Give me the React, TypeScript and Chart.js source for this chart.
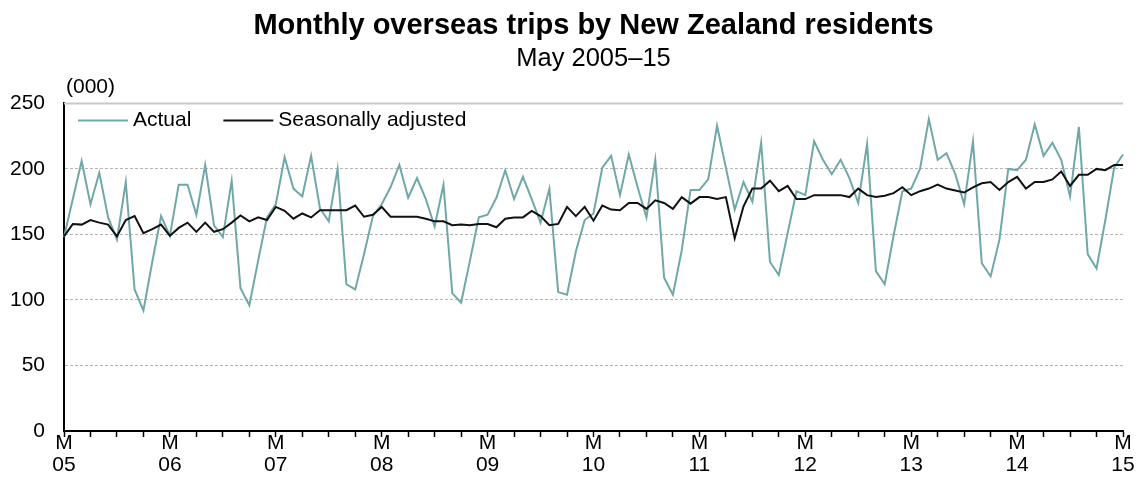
import React, { useEffect, useRef } from "react";
import { Chart, registerables } from "chart.js";

Chart.register(...registerables);

const TITLE = "Monthly overseas trips by New Zealand residents";
const SUBTITLE = "May 2005–15";
const UNIT_LABEL = "(000)";

const MONTH_NAMES = ["May", "Jun", "Jul", "Aug", "Sep", "Oct", "Nov", "Dec", "Jan", "Feb", "Mar", "Apr"];
const START_YEAR = 2005;
const MONTH_COUNT = 121;

const X_TICK_LABELS = [
  ["M", "05"], ["M", "06"], ["M", "07"], ["M", "08"], ["M", "09"], ["M", "10"],
  ["M", "11"], ["M", "12"], ["M", "13"], ["M", "14"], ["M", "15"],
];

const Y_TICKS = [0, 50, 100, 150, 200, 250];

const ACTUAL = [
  148, 177, 206, 173, 197, 163, 146, 190, 108, 92, 129, 164,
  149, 188, 188, 165, 203, 157, 148, 191, 109, 96, 130, 163,
  173, 209, 185, 179, 210, 170, 160, 200, 112, 108, 135, 164,
  173, 186, 203, 178, 193, 177, 156, 188, 105, 98, 130, 163,
  165, 178, 199, 177, 194, 177, 159, 185, 106, 104, 137, 161,
  166, 201, 210, 180, 211, 186, 163, 207, 117, 104, 138, 184,
  184, 192, 233, 201, 169, 190, 175, 220, 129, 119, 151, 183,
  180, 221, 207, 196, 207, 193, 174, 219, 122, 112, 149, 183,
  185, 200, 238, 207, 212, 196, 173, 221, 128, 118, 146, 200,
  199, 207, 234, 210, 220, 207, 179, 232, 135, 124, 161, 201,
  211,
];

const SEASONALLY_ADJUSTED = [
  148.5, 158, 157.5, 161, 159, 157.5, 148.5, 161, 164, 151, 154, 157.5,
  149, 155, 159, 152, 159, 152, 154, 159, 164.5, 160, 163, 161,
  171, 168, 162, 166, 163, 168.5, 168.5, 168.5, 168.5, 172, 163.5, 165,
  171, 163.5, 163.5, 163.5, 163.5, 162, 160, 160, 157, 157.5, 157, 158,
  158, 155.5, 162, 163, 163, 168, 164, 157, 158, 171, 164, 171,
  160.5, 172, 169, 168.5, 174, 174, 169.5, 176, 174, 169.5, 178.5, 173.5,
  178.5, 178.5, 177, 178.5, 147, 171.5, 185, 185, 191, 183, 187, 177,
  177, 180, 180, 180, 180, 178.5, 185, 180, 178.5, 179.5, 181.5, 186,
  180, 183, 185, 188, 185, 183.5, 182, 186, 189, 190, 184, 190,
  194, 185, 190, 190, 192, 198, 187, 195.5, 195.5, 200, 199, 203,
  203,
];

const SERIES_NAMES = ["Actual", "Seasonally adjusted"];
const SERIES_COLORS = ["#70a8a8", "#111111"];

const FONT = "'Liberation Sans', Arial, sans-serif";

function buildCategories(): string[] {
  const out: string[] = [];
  for (let i = 0; i < MONTH_COUNT; i++) {
    const year = START_YEAR + Math.floor((i + 4) / 12);
    out.push(MONTH_NAMES[i % 12] + " " + year);
  }
  return out;
}

const overlayPlugin = {
  id: "overlay",
  beforeDatasetsDraw(chart: any) {
    const { ctx, chartArea, scales } = chart;
    const yTop = scales.y.getPixelForValue(250);
    ctx.save();
    ctx.strokeStyle = "#c9c9c9";
    ctx.lineWidth = 2;
    ctx.beginPath();
    ctx.moveTo(chartArea.left, yTop);
    ctx.lineTo(chartArea.right, yTop);
    ctx.stroke();
    ctx.restore();
  },
  afterDraw(chart: any) {
    const { ctx, chartArea } = chart;
    ctx.save();
    ctx.font = "21px " + FONT;
    ctx.fillStyle = "#000";
    ctx.textBaseline = "middle";
    ctx.textAlign = "left";
    ctx.fillText(UNIT_LABEL, chartArea.left + 2, chartArea.top - 16);

    // legend inside the chart area
    let x = chartArea.left + 14;
    const y = chartArea.top + 17;
    chart.data.datasets.forEach((ds: any) => {
      ctx.strokeStyle = ds.borderColor;
      ctx.lineWidth = 2;
      ctx.beginPath();
      ctx.moveTo(x, y);
      ctx.lineTo(x + 50, y);
      ctx.stroke();
      x += 55;
      ctx.fillStyle = "#000";
      ctx.fillText(ds.label, x, y);
      x += ctx.measureText(ds.label).width + 32;
    });
    ctx.restore();
  },
};

export default function App() {
  const ref = useRef<HTMLCanvasElement | null>(null);

  useEffect(() => {
    if (!ref.current) return;
    const categories = buildCategories();
    const chart = new Chart(ref.current, {
      type: "line",
      data: {
        labels: categories,
        datasets: [
          {
            label: SERIES_NAMES[0],
            data: ACTUAL,
            borderColor: SERIES_COLORS[0],
            backgroundColor: SERIES_COLORS[0],
            borderWidth: 2,
            pointRadius: 0,
            tension: 0,
            order: 1,
          },
          {
            label: SERIES_NAMES[1],
            data: SEASONALLY_ADJUSTED,
            borderColor: SERIES_COLORS[1],
            backgroundColor: SERIES_COLORS[1],
            borderWidth: 2,
            pointRadius: 0,
            tension: 0,
            order: 0,
          },
        ],
      },
      options: {
        animation: false,
        responsive: false,
        maintainAspectRatio: false,
        layout: { padding: { left: 0, right: 15, top: 0, bottom: 0 } },
        plugins: {
          legend: { display: false },
          tooltip: { enabled: false },
          title: {
            display: true,
            fullSize: false,
            text: TITLE,
            color: "#000",
            font: { family: FONT, size: 29, weight: "bold" },
            padding: { top: 9, bottom: 0 },
          },
          subtitle: {
            display: true,
            fullSize: false,
            text: SUBTITLE,
            color: "#000",
            font: { family: FONT, size: 25.5, weight: "normal" },
            padding: { top: 0, bottom: 29 },
          },
        },
        scales: {
          x: {
            type: "category",
            offset: false,
            afterFit(scale: any) {
              scale.height = 60;
            },
            border: { display: true, color: "#000", width: 2 },
            grid: {
              drawOnChartArea: false,
              drawTicks: true,
              tickLength: 6,
              tickWidth: 1.5,
              tickColor: (ctx: any) => (ctx.index % 3 === 0 ? "#000" : "rgba(0,0,0,0)"),
              color: "rgba(0,0,0,0)",
            },
            ticks: {
              autoSkip: false,
              maxRotation: 0,
              minRotation: 0,
              padding: -5,
              color: "#000",
              font: { family: FONT, size: 21, lineHeight: 1.05 },
              callback: (_v: any, i: number) => (i % 12 === 0 ? X_TICK_LABELS[i / 12] : ""),
            },
          },
          y: {
            min: Y_TICKS[0],
            max: Y_TICKS[Y_TICKS.length - 1],
            afterFit(scale: any) {
              scale.width = 64;
            },
            afterBuildTicks(scale: any) {
              scale.ticks = Y_TICKS.map((v) => ({ value: v }));
            },
            border: { display: true, color: "#000", width: 2, dash: [3, 2] },
            grid: {
              drawTicks: false,
              color: (ctx: any) =>
                ctx.tick && (ctx.tick.value === 0 || ctx.tick.value === 250) ? "rgba(0,0,0,0)" : "#b5b5b5",
              lineWidth: 1,
            },
            ticks: {
              padding: 19,
              color: "#000",
              font: { family: FONT, size: 21 },
            },
          },
        },
      },
      plugins: [overlayPlugin],
    });
    return () => chart.destroy();
  }, []);

  return (
    <div style={{ position: "absolute", left: 0, top: 0, width: 1138, height: 491, background: "#fff" }}>
      <canvas ref={ref} width={1138} height={491} style={{ display: "block" }} />
    </div>
  );
}
